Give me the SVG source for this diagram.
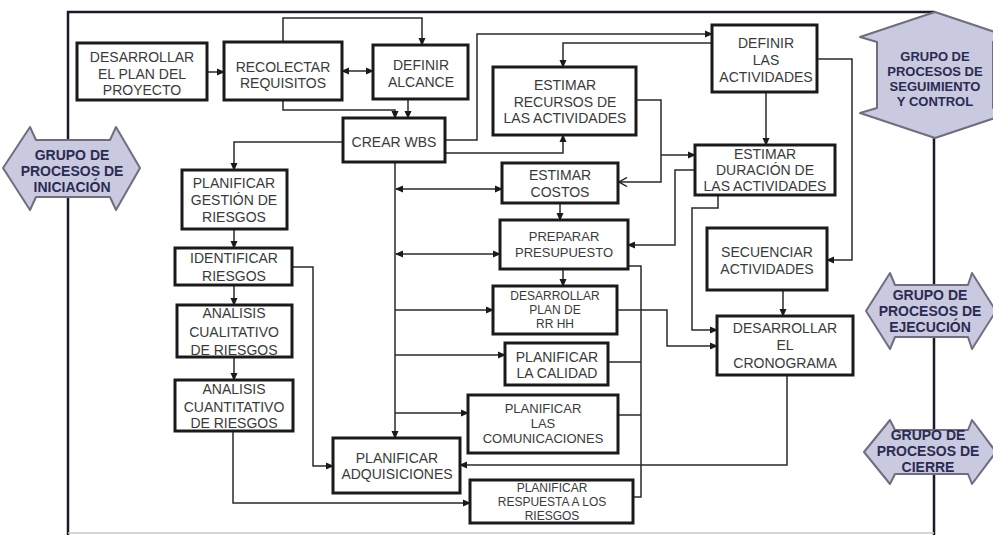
<svg xmlns="http://www.w3.org/2000/svg" width="993" height="535" viewBox="0 0 993 535">
<style>
.box{fill:#fff;stroke:#1a1a1a;stroke-width:3}
.t{font-family:"Liberation Sans",Arial,sans-serif;font-size:14px;fill:#3a3a3a;text-anchor:middle}
.s{font-size:13px}
.xs{font-size:12px}
.g{font-family:"Liberation Sans",Arial,sans-serif;font-size:14px;font-weight:bold;fill:#2b2b52;text-anchor:middle}
.gs{font-size:13px}
.grp{fill:#c9c9df;stroke:#6e6e7e;stroke-width:2;stroke-linejoin:round}
.frame{fill:none;stroke:#1a1a2a;stroke-width:2.5}
.c{fill:none;stroke:#2a2a2a;stroke-width:1.5}
</style>
<defs>
<marker id="a" markerWidth="8" markerHeight="8" refX="7" refY="4" orient="auto" markerUnits="userSpaceOnUse"><path d="M0,0.5 L8,4 L0,7.5 Z" fill="#1a1a1a"/></marker>
<marker id="as" markerWidth="8" markerHeight="8" refX="1" refY="4" orient="auto" markerUnits="userSpaceOnUse"><path d="M8,0.5 L0,4 L8,7.5 Z" fill="#1a1a1a"/></marker>
<marker id="o" markerWidth="10" markerHeight="10" refX="9" refY="5" orient="auto" markerUnits="userSpaceOnUse"><path d="M1,0.5 L9,5 L1,9.5" fill="none" stroke="#1a1a1a" stroke-width="1.4"/></marker>
</defs>

<g id="frame">
<path class="frame" d="M68,535 V12 H935"/>
<path class="frame" d="M934,138 V535"/>
<path d="M68,533 H934" fill="none" stroke="#c8c8c8" stroke-width="1.5"/>
</g>

<g id="connectors">
<path class="c" d="M207,72 H224" marker-end="url(#a)"/>
<path class="c" d="M342,71 H373" marker-start="url(#as)" marker-end="url(#a)"/>
<path class="c" d="M283,42 V18 H422 V45" marker-end="url(#a)"/>
<path class="c" d="M283,100 V110 H395 V118" marker-end="url(#a)"/>
<path class="c" d="M408,99 V118" marker-end="url(#a)"/>
<path class="c" d="M343,142 H234 V170" marker-end="url(#a)"/>
<path class="c" d="M445,140 H477 V34 H712" marker-end="url(#a)"/>
<path class="c" d="M712,43 H563 V67" marker-end="url(#a)"/>
<path class="c" d="M445,153 H563 V135" marker-end="url(#a)"/>
<path class="c" d="M636,100 H661 V182 H619" marker-end="url(#o)"/>
<path class="c" d="M661,155 H695" marker-end="url(#a)"/>
<path class="c" d="M695,170 H675 V245 H628" marker-end="url(#a)"/>
<path class="c" d="M766,92 V145" marker-end="url(#a)"/>
<path class="c" d="M817,59 H852 V260 H827" marker-end="url(#a)"/>
<path class="c" d="M718,195 V208 H692 V330 H717" marker-end="url(#a)"/>
<path class="c" d="M783,290 V316" marker-end="url(#a)"/>
<path class="c" d="M617,310 H667 V346 H717" marker-end="url(#a)"/>
<path class="c" d="M787,375 V465 H460" marker-end="url(#a)"/>
<path class="c" d="M395,162 V438" marker-end="url(#a)"/>
<path class="c" d="M396,189 H502" marker-start="url(#as)" marker-end="url(#a)"/>
<path class="c" d="M396,254 H500" marker-start="url(#as)" marker-end="url(#a)"/>
<path class="c" d="M395,310 H493" marker-end="url(#a)"/>
<path class="c" d="M395,355 H505" marker-end="url(#a)"/>
<path class="c" d="M395,413 H468" marker-end="url(#a)"/>
<path class="c" d="M560,203 V220" marker-end="url(#a)"/>
<path class="c" d="M563,269 V286" marker-end="url(#a)"/>
<path class="c" d="M628,266 H641 V497 H633"/>
<path class="c" d="M608,362 H641"/>
<path class="c" d="M618,415 H641"/>
<path class="c" d="M234,229 V248" marker-end="url(#a)"/>
<path class="c" d="M234,285 V305" marker-end="url(#a)"/>
<path class="c" d="M234,357 V380" marker-end="url(#a)"/>
<path class="c" d="M292,267 H313 V466 H333" marker-end="url(#a)"/>
<path class="c" d="M233,431 V503 H470" marker-end="url(#a)"/>
</g>

<g id="grupo-iniciacion">
<path class="grp" d="M3,168 L30,127 L36,140 L110,140 L116,127 L140,168 L116,210 L110,197 L36,197 L30,210 Z"/>
<text class="g" x="72" y="160">GRUPO DE</text>
<text class="g" x="72" y="176">PROCESOS DE</text>
<text class="g" x="72" y="192">INICIACIÓN</text>
</g>
<g id="grupo-seguimiento">
<path class="grp" d="M935,12 L1010,37 L993,42 L993,108 L1010,113 L935,138 L860,113 L877,108 L877,42 L860,37 Z"/>
<text class="g gs" x="935" y="61">GRUPO DE</text>
<text class="g gs" x="935" y="76">PROCESOS DE</text>
<text class="g gs" x="935" y="91">SEGUIMIENTO</text>
<text class="g gs" x="935" y="106">Y CONTROL</text>
</g>
<g id="grupo-ejecucion">
<path class="grp" d="M866,311 L890,273 L895,285 L968,285 L972,273 L996,311 L972,349 L968,337 L895,337 L890,349 Z"/>
<text class="g" x="930" y="300">GRUPO DE</text>
<text class="g" x="930" y="316">PROCESOS DE</text>
<text class="g" x="930" y="332">EJECUCIÓN</text>
</g>
<g id="grupo-cierre">
<path class="grp" d="M864,452 L890,420 L895,430 L968,430 L972,420 L996,452 L972,484 L968,474 L895,474 L890,484 Z"/>
<text class="g" x="928" y="440">GRUPO DE</text>
<text class="g" x="928" y="456">PROCESOS DE</text>
<text class="g" x="928" y="472">CIERRE</text>
</g>

<g id="n-desarrollar-plan"><rect class="box" x="77" y="43" width="130" height="57"/>
<text class="t" x="142" y="62">DESARROLLAR</text><text class="t" x="142" y="79">EL PLAN DEL</text><text class="t" x="142" y="95">PROYECTO</text></g>
<g id="n-recolectar"><rect class="box" x="224" y="42" width="118" height="58"/>
<text class="t" x="283" y="72">RECOLECTAR</text><text class="t" x="283" y="88">REQUISITOS</text></g>
<g id="n-definir-alcance"><rect class="box" x="373" y="45" width="95" height="54"/>
<text class="t" x="421" y="70">DEFINIR</text><text class="t" x="421" y="87">ALCANCE</text></g>
<g id="n-crear-wbs"><rect class="box" x="343" y="118" width="102" height="44"/>
<text class="t" x="394" y="147">CREAR WBS</text></g>
<g id="n-estimar-recursos"><rect class="box" x="493" y="67" width="143" height="68"/>
<text class="t" x="565" y="90">ESTIMAR</text><text class="t" x="565" y="107">RECURSOS DE</text><text class="t" x="565" y="123">LAS ACTIVIDADES</text></g>
<g id="n-definir-actividades"><rect class="box" x="712" y="25" width="105" height="67"/>
<text class="t" x="766" y="48">DEFINIR</text><text class="t" x="766" y="65">LAS</text><text class="t" x="766" y="82">ACTIVIDADES</text></g>
<g id="n-estimar-duracion"><rect class="box" x="695" y="145" width="140" height="50"/>
<text class="t" x="765" y="159">ESTIMAR</text><text class="t" x="765" y="175">DURACIÓN DE</text><text class="t" x="765" y="191">LAS ACTIVIDADES</text></g>
<g id="n-secuenciar"><rect class="box" x="707" y="228" width="120" height="62"/>
<text class="t" x="767" y="257">SECUENCIAR</text><text class="t" x="767" y="274">ACTIVIDADES</text></g>
<g id="n-cronograma"><rect class="box" x="717" y="316" width="136" height="59"/>
<text class="t" x="785" y="333">DESARROLLAR</text><text class="t" x="785" y="350">EL</text><text class="t" x="785" y="368">CRONOGRAMA</text></g>
<g id="n-estimar-costos"><rect class="box" x="502" y="163" width="116" height="40"/>
<text class="t" x="560" y="180">ESTIMAR</text><text class="t" x="560" y="197">COSTOS</text></g>
<g id="n-presupuesto"><rect class="box" x="500" y="220" width="128" height="49"/>
<text class="t s" x="564" y="241">PREPARAR</text><text class="t s" x="564" y="257">PRESUPUESTO</text></g>
<g id="n-rrhh"><rect class="box" x="493" y="286" width="124" height="48"/>
<text class="t xs" x="555" y="300">DESARROLLAR</text><text class="t xs" x="555" y="314">PLAN DE</text><text class="t xs" x="555" y="328">RR HH</text></g>
<g id="n-calidad"><rect class="box" x="505" y="343" width="103" height="42"/>
<text class="t" x="557" y="362">PLANIFICAR</text><text class="t" x="557" y="378">LA CALIDAD</text></g>
<g id="n-comunicaciones"><rect class="box" x="468" y="395" width="150" height="58"/>
<text class="t s" x="543" y="413">PLANIFICAR</text><text class="t s" x="543" y="428">LAS</text><text class="t s" x="543" y="443">COMUNICACIONES</text></g>
<g id="n-adquisiciones"><rect class="box" x="333" y="438" width="127" height="55"/>
<text class="t" x="397" y="463">PLANIFICAR</text><text class="t" x="397" y="479">ADQUISICIONES</text></g>
<g id="n-respuesta"><rect class="box" x="470" y="480" width="163" height="43"/>
<text class="t xs" x="552" y="492">PLANIFICAR</text><text class="t xs" x="552" y="506">RESPUESTA A LOS</text><text class="t xs" x="552" y="520">RIESGOS</text></g>
<g id="n-gestion-riesgos"><rect class="box" x="182" y="170" width="105" height="59"/>
<text class="t" x="234" y="188">PLANIFICAR</text><text class="t" x="234" y="205">GESTIÓN DE</text><text class="t" x="234" y="222">RIESGOS</text></g>
<g id="n-identificar"><rect class="box" x="175" y="248" width="117" height="37"/>
<text class="t" x="234" y="263">IDENTIFICAR</text><text class="t" x="234" y="281">RIESGOS</text></g>
<g id="n-cualitativo"><rect class="box" x="177" y="305" width="115" height="52"/>
<text class="t" x="234" y="318">ANALISIS</text><text class="t" x="234" y="337">CUALITATIVO</text><text class="t" x="234" y="355">DE RIESGOS</text></g>
<g id="n-cuantitativo"><rect class="box" x="175" y="380" width="118" height="51"/>
<text class="t" x="234" y="394">ANALISIS</text><text class="t" x="234" y="412">CUANTITATIVO</text><text class="t" x="234" y="428">DE RIESGOS</text></g>
</svg>
